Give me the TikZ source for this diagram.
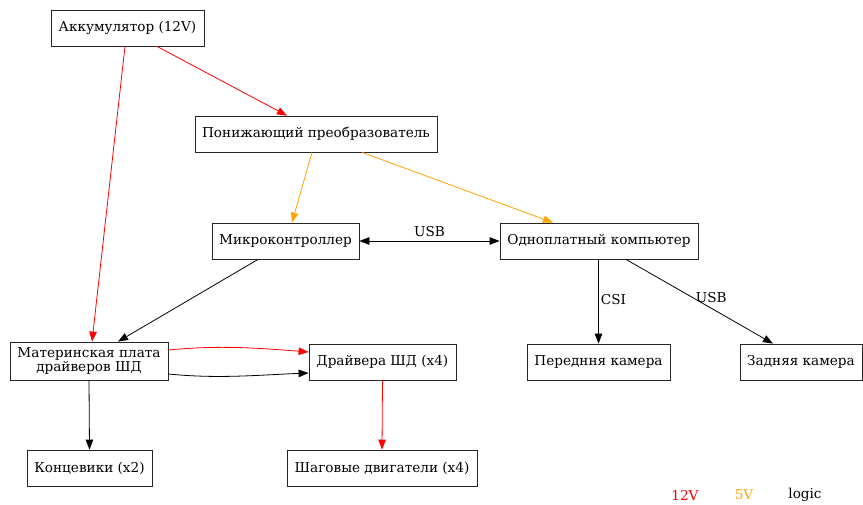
\documentclass[tikz,border=0pt]{standalone}
\usepackage{fontspec}
\setmainfont{DejaVu Serif}
\usetikzlibrary{arrows.meta,calc}
\definecolor{vred}{HTML}{FF0000}
\definecolor{vorange}{HTML}{FFA500}
\begin{document}
\begin{tikzpicture}[x=1pt,y=-1pt,
  box/.style={draw=black!85,line width=0.8pt,rectangle,minimum height=36pt,inner sep=0pt,align=center,font=\fontsize{13.6}{15.5}\selectfont},
  conn/.style={line width=0.8pt,-{Triangle[length=10pt,width=7.5pt]}},
  lbl/.style={font=\fontsize{13.6}{15.5}\selectfont,inner sep=0pt},
  p12/.style={conn,draw=vred},
  p5/.style={conn,draw=vorange},
  plog/.style={conn,draw=black}]
\useasboundingbox (0,0) rectangle (863,504);
\node[box,minimum width=153pt] (akk) at (127.5,28) {Аккумулятор (12V)};
\node[box,minimum width=242pt] (pon) at (316,134) {Понижающий преобразователь};
\node[box,minimum width=147pt] (mic) at (285.5,241) {Микроконтроллер};
\node[box,minimum width=198pt] (odn) at (599,241) {Одноплатный компьютер};
\node[box,minimum width=158pt,minimum height=38pt] (mat) at (89,361) {Материнская плата\\[-1pt]драйверов ШД};
\node[box,minimum width=147pt] (drv) at (382.5,362) {Драйвера ШД (x4)};
\node[box,minimum width=143pt] (per) at (598.5,362) {Передння камера};
\node[box,minimum width=122pt] (zad) at (801,362) {Задняя камера};
\node[box,minimum width=125pt] (kon) at (89.5,468) {Концевики (x2)};
\node[box,minimum width=190pt] (sha) at (382,468) {Шаговые двигатели (x4)};
\node[lbl,text=vred] (l12) at (685,495) {12V};
\node[lbl,text=vorange] (l5) at (744,495) {5V};
\node[lbl,text=black] (llog) at (805,495) {logic};
\draw[p12] ($(akk.south)+(-2.5,0)$) -- ($(mat.north)+(3,0)$);
\draw[p12] ($(akk.south)+(29.5,0)$) -- ($(pon.north)+(-29,0)$);
\draw[p5] ($(pon.south)+(-4,0)$) -- ($(mic.north)+(6.5,0)$);
\draw[p5] ($(pon.south)+(46,0)$) -- ($(odn.north)+(-46,0)$);
\draw[plog,{Triangle[length=10pt,width=7.5pt]}-{Triangle[length=10pt,width=7.5pt]}] (mic.east) -- node[lbl,above=4pt] (usb1) {USB} (odn.west);
\draw[plog] ($(mic.south)+(-27.5,0)$) -- ($(mat.north)+(29,0)$);
\draw[p12] ($(mat.east)+(0,-11)$) .. controls +(50,-5) and +(-50,-4) .. ($(drv.west)+(0,-10)$);
\draw[plog] ($(mat.east)+(0,13)$) .. controls +(50,5) and +(-50,2) .. ($(drv.west)+(0,11)$);
\draw[plog] (mat.south) -- (kon.north);
\draw[p12] (drv.south) -- (sha.north);
\draw[plog] ($(odn.south)+(-0.5,0)$) -- node[lbl,right=2pt,pos=0.48] (csi) {CSI} (per.north);
\draw[plog] ($(odn.south)+(27,0)$) -- node[lbl,anchor=south west,pos=0.5,xshift=-4pt,yshift=-2pt] (usb2) {USB} ($(zad.north)+(-28,0)$);
\end{tikzpicture}
\end{document}
